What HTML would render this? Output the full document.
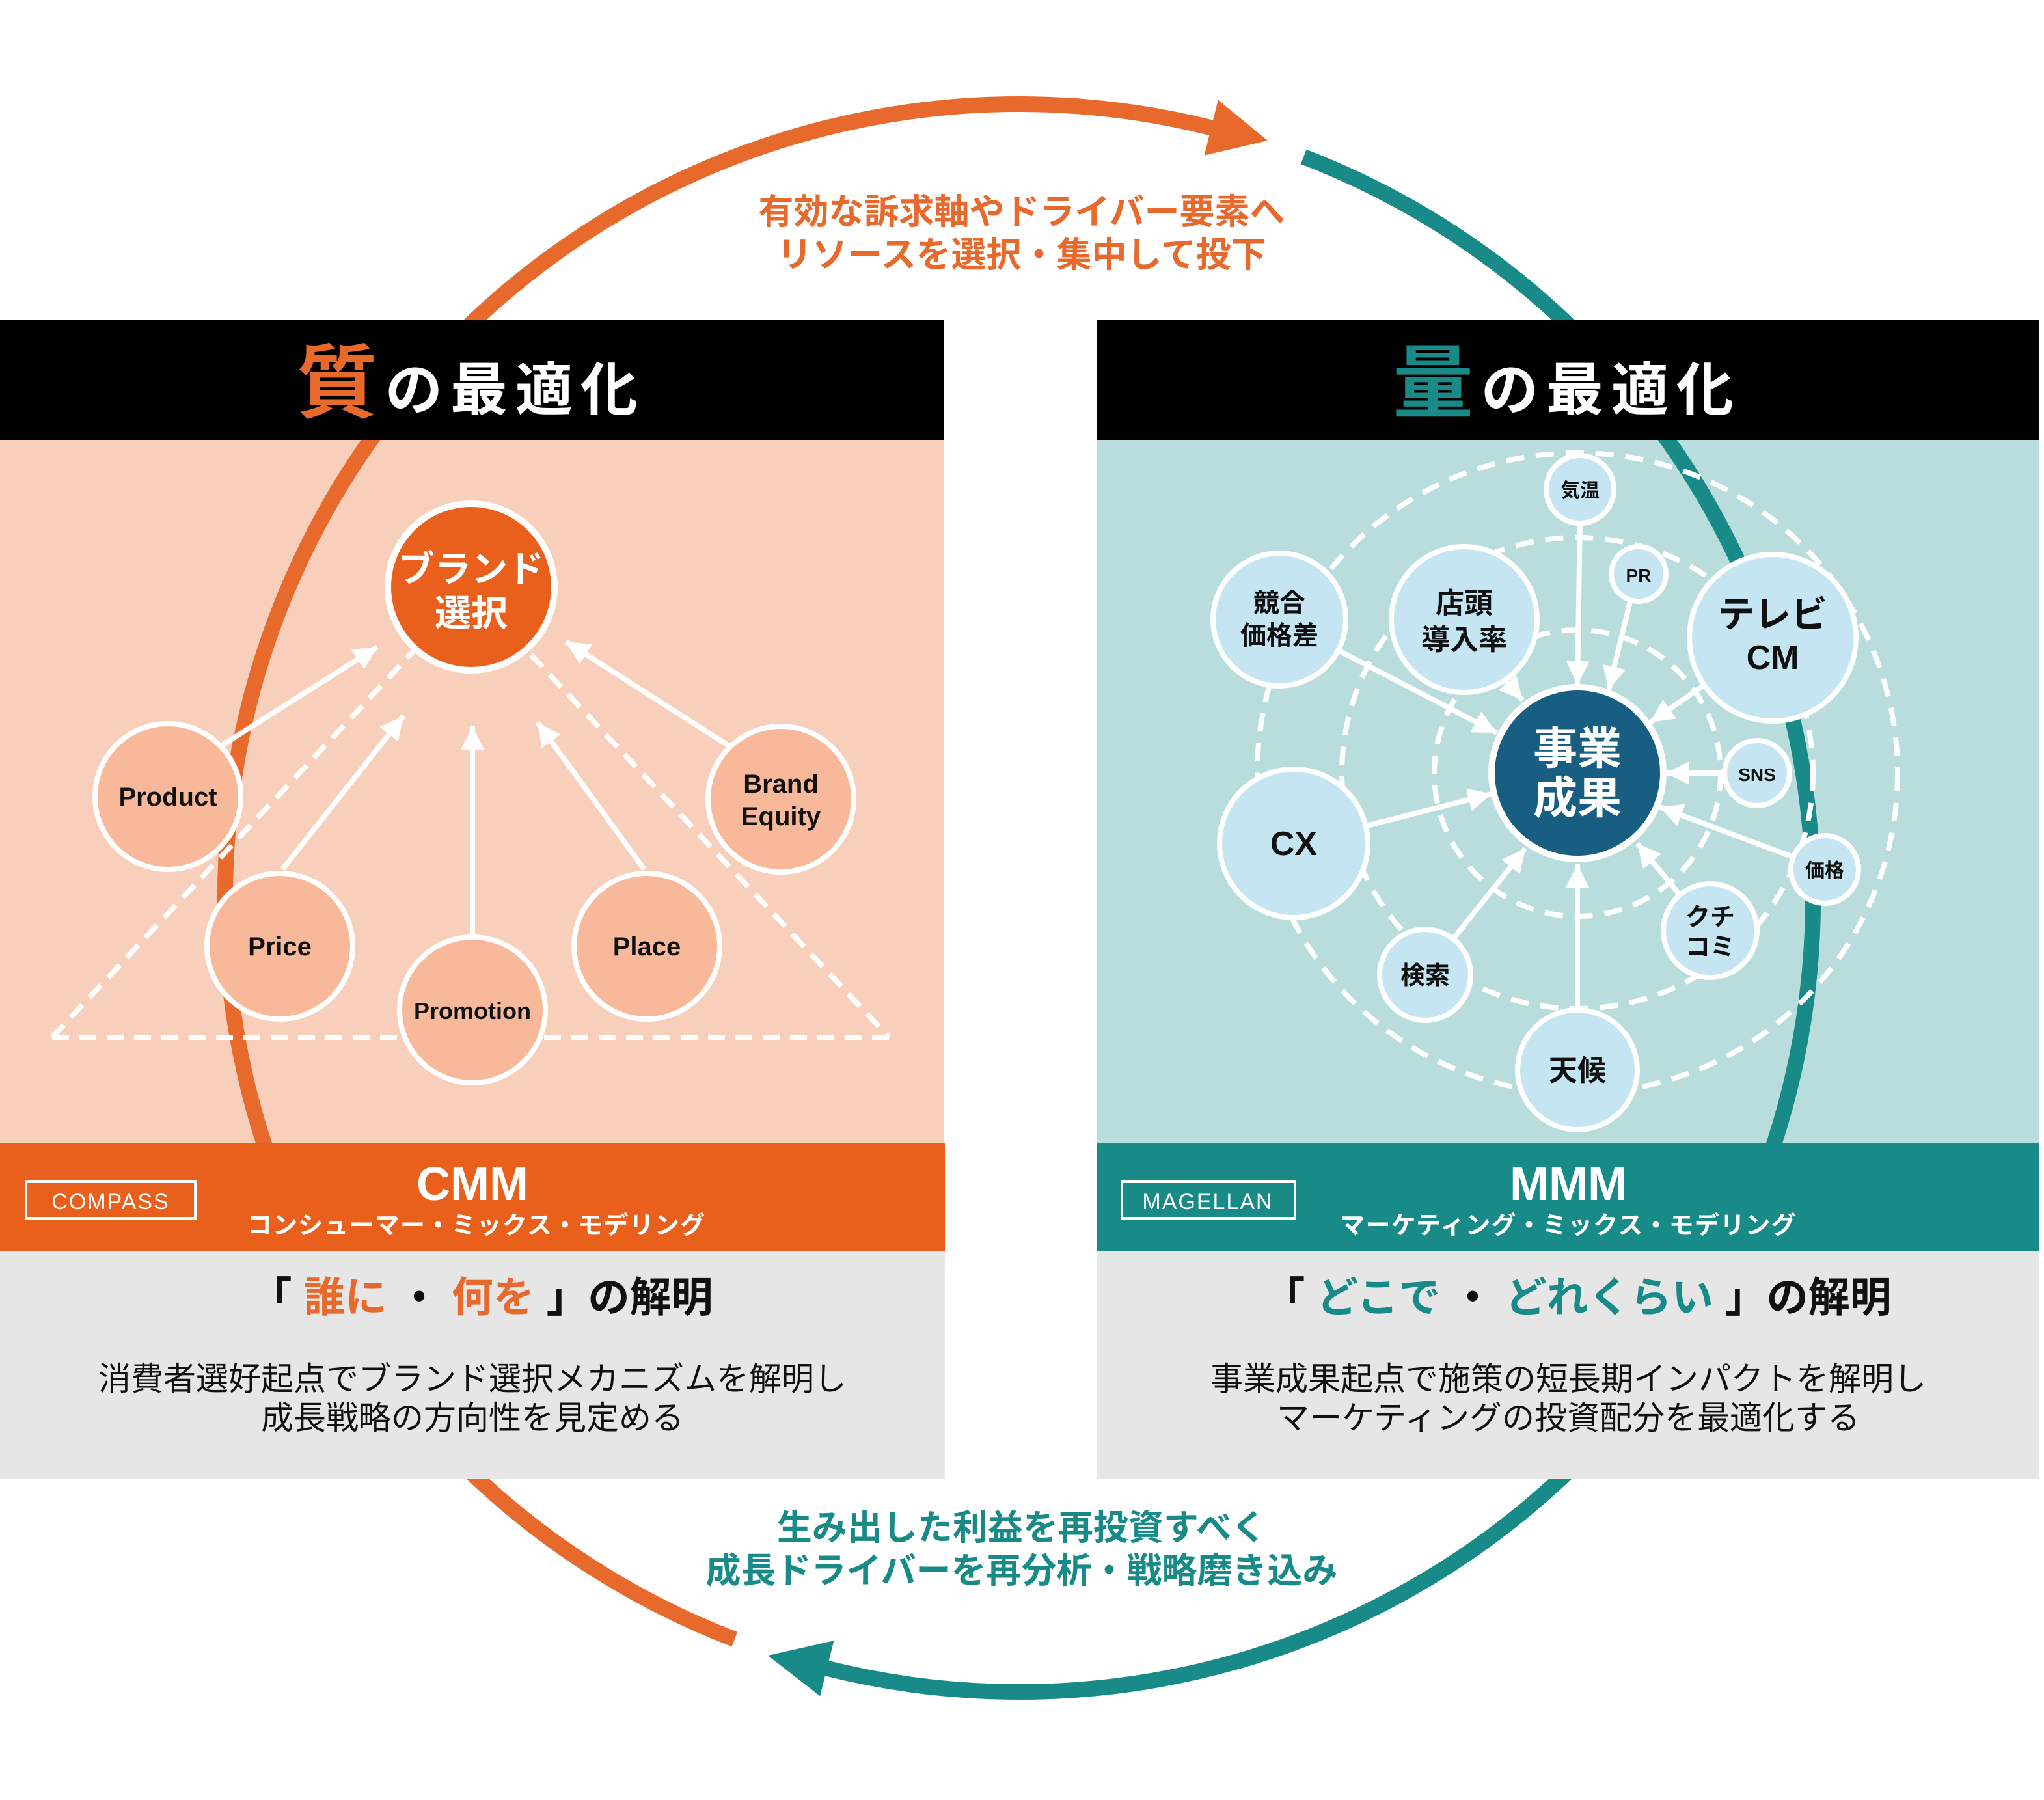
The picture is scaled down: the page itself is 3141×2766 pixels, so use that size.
<!DOCTYPE html>
<html><head><meta charset="utf-8"><style>
html,body{margin:0;padding:0;background:#fff;}
svg{display:block;}
text{font-family:"Liberation Sans","Noto Sans CJK JP",sans-serif;font-weight:bold;}
</style></head><body>
<svg width="3141" height="2766" viewBox="0 0 1570.5 1383" xmlns="http://www.w3.org/2000/svg">
<defs>
<marker id="ah" markerUnits="userSpaceOnUse" markerWidth="22" markerHeight="22" refX="18" refY="9" orient="auto"><path d="M0,0 L18,9 L0,18 Z" fill="#fff"/></marker>
</defs>
<rect x="0" y="338" width="725" height="542" fill="#F8CFBA"/>
<rect x="843" y="338" width="724" height="542" fill="#B9DCDD"/>
<path d="M564.4,1259.5 A610,610 0 0 1 940.9,100.8" fill="none" stroke="#E8692C" stroke-width="12"/>
<polygon points="974,108 935.9,76.8 925.3,119.4" fill="#E8692C"/>
<path d="M1001.6,120.5 A610,610 0 0 1 625.1,1279.2" fill="none" stroke="#188B89" stroke-width="12"/>
<polygon points="590,1272 630.1,1303.2 640.7,1260.6" fill="#188B89"/>
<text x="785" y="172" font-size="27" fill="#E8692C" text-anchor="middle">有効な訴求軸やドライバー要素へ</text>
<text x="785" y="205" font-size="27" fill="#E8692C" text-anchor="middle">リソースを選択・集中して投下</text>
<text x="785" y="1183" font-size="27" fill="#188B89" text-anchor="middle">生み出した利益を再投資すべく</text>
<text x="785" y="1216" font-size="27" fill="#188B89" text-anchor="middle">成長ドライバーを再分析・戦略磨き込み</text>

<g stroke="#fff" stroke-width="4" fill="none" stroke-dasharray="13,8">
<line x1="40" y1="797" x2="318" y2="500"/>
<line x1="408" y1="503" x2="683" y2="797"/>
<line x1="40" y1="797" x2="683" y2="797"/>
</g>
<g stroke="#fff" stroke-width="4" marker-end="url(#ah)">
<line x1="170" y1="573" x2="290" y2="497"/>
<line x1="217" y1="668" x2="310" y2="550"/>
<line x1="363" y1="718" x2="363" y2="558"/>
<line x1="495" y1="668" x2="413" y2="555"/>
<line x1="560" y1="573" x2="435" y2="493"/>
</g>
<g fill="#F7B99A" stroke="#fff" stroke-width="4">
<circle cx="129" cy="612" r="56"/>
<circle cx="215" cy="727" r="56"/>
<circle cx="363" cy="776" r="56"/>
<circle cx="497" cy="727" r="56"/>
<circle cx="600" cy="614" r="56"/>
</g>
<circle cx="362" cy="451" r="64" fill="#E8601C" stroke="#fff" stroke-width="5"/>
<g font-size="20" fill="#111" text-anchor="middle">
<text x="129" y="619">Product</text>
<text x="215" y="734">Price</text>
<text x="363" y="783" font-size="18">Promotion</text>
<text x="497" y="734">Place</text>
<text x="600" y="609">Brand</text>
<text x="600" y="634">Equity</text>
</g>
<text x="362" y="447" font-size="28" fill="#fff" text-anchor="middle">ブランド</text>
<text x="362" y="481" font-size="28" fill="#fff" text-anchor="middle">選択</text>

<g stroke="#fff" stroke-width="4" fill="none" stroke-dasharray="14,9">
<circle cx="1212" cy="594" r="110"/>
<circle cx="1212" cy="594" r="181"/>
<circle cx="1212" cy="594" r="246"/>
</g>
<g stroke="#fff" stroke-width="4" marker-end="url(#ah)">
<line x1="1214" y1="401" x2="1212" y2="526"/>
<line x1="1253" y1="460" x2="1236" y2="530"/>
<line x1="1027" y1="499" x2="1150" y2="563"/>
<line x1="1150" y1="515" x2="1170" y2="538"/>
<line x1="1310" y1="526" x2="1268" y2="555"/>
<line x1="1326" y1="594" x2="1280" y2="594"/>
<line x1="1048" y1="635" x2="1146" y2="610"/>
<line x1="1379" y1="659" x2="1275" y2="620"/>
<line x1="1291" y1="688" x2="1258" y2="648"/>
<line x1="1116" y1="722" x2="1172" y2="652"/>
<line x1="1212" y1="777" x2="1212" y2="664"/>
</g>
<g fill="#C5E5F3" stroke="#fff" stroke-width="4">
<circle cx="1214" cy="376" r="26"/>
<circle cx="1259" cy="441" r="21"/>
<circle cx="983" cy="476" r="51"/>
<circle cx="1125" cy="476" r="56"/>
<circle cx="1362" cy="490" r="64"/>
<circle cx="1350" cy="594" r="25"/>
<circle cx="994" cy="648" r="57"/>
<circle cx="1402" cy="668" r="26"/>
<circle cx="1314" cy="715" r="36"/>
<circle cx="1095" cy="749" r="35"/>
<circle cx="1212" cy="822" r="46"/>
</g>
<circle cx="1212" cy="594" r="66" fill="#175E82" stroke="#fff" stroke-width="5"/>
<g fill="#111" text-anchor="middle">
<text x="1214" y="382" font-size="15">気温</text>
<text x="1259" y="447" font-size="14">PR</text>
<text x="983" y="470" font-size="20">競合</text>
<text x="983" y="495" font-size="20">価格差</text>
<text x="1125" y="471" font-size="22">店頭</text>
<text x="1125" y="499" font-size="22">導入率</text>
<text x="1362" y="482" font-size="28">テレビ</text>
<text x="1362" y="514" font-size="26">CM</text>
<text x="1350" y="600" font-size="14">SNS</text>
<text x="994" y="657" font-size="26">CX</text>
<text x="1402" y="674" font-size="15">価格</text>
<text x="1314" y="711" font-size="19">クチ</text>
<text x="1314" y="734" font-size="19">コミ</text>
<text x="1095" y="756" font-size="19">検索</text>
<text x="1212" y="830" font-size="22">天候</text>
</g>
<text x="1212" y="587" font-size="34" fill="#fff" text-anchor="middle">事業</text>
<text x="1212" y="625" font-size="34" fill="#fff" text-anchor="middle">成果</text>

<rect x="0" y="246" width="725" height="92" fill="#000"/>
<rect x="843" y="246" width="724" height="92" fill="#000"/>
<text x="228" y="316" font-size="62" fill="#E8692C">質</text>
<text x="296" y="315" font-size="44" fill="#fff" letter-spacing="6">の最適化</text>
<text x="1070" y="316" font-size="62" fill="#188B89">量</text>
<text x="1138" y="315" font-size="44" fill="#fff" letter-spacing="6">の最適化</text>

<rect x="0" y="878" width="726" height="83" fill="#E8601C"/>
<rect x="843" y="878" width="724" height="83" fill="#188B89"/>
<rect x="20" y="908" width="130" height="28" fill="none" stroke="#fff" stroke-width="2"/>
<text x="85" y="929" font-size="17" fill="#fff" text-anchor="middle" style="font-weight:normal" letter-spacing="1">COMPASS</text>
<rect x="862" y="908" width="133" height="28" fill="none" stroke="#fff" stroke-width="2"/>
<text x="928" y="929" font-size="17" fill="#fff" text-anchor="middle" style="font-weight:normal" letter-spacing="1">MAGELLAN</text>
<text x="363" y="922" font-size="36" fill="#fff" text-anchor="middle">CMM</text>
<text x="366" y="948" font-size="19" fill="#fff" text-anchor="middle" letter-spacing="0.6">コンシューマー・ミックス・モデリング</text>
<text x="1205" y="922" font-size="36" fill="#fff" text-anchor="middle">MMM</text>
<text x="1205" y="948" font-size="19" fill="#fff" text-anchor="middle" letter-spacing="0.6">マーケティング・ミックス・モデリング</text>

<rect x="0" y="961" width="726" height="175" fill="#E6E6E6"/>
<rect x="843" y="961" width="724" height="175" fill="#E6E6E6"/>
<text x="370" y="1008" font-size="32" fill="#111" text-anchor="middle" xml:space="preserve">「 <tspan fill="#E8692C">誰に</tspan> ・ <tspan fill="#E8692C">何を</tspan> 」の解明</text>
<text x="1212" y="1008" font-size="32" fill="#111" text-anchor="middle" xml:space="preserve">「 <tspan fill="#188B89">どこで</tspan> ・ <tspan fill="#188B89">どれくらい</tspan> 」の解明</text>
<g font-size="25" fill="#111" text-anchor="middle">
<text x="363" y="1068" style="font-weight:normal">消費者選好起点でブランド選択メカニズムを解明し</text>
<text x="363" y="1098" style="font-weight:normal">成長戦略の方向性を見定める</text>
<text x="1205" y="1068" style="font-weight:normal">事業成果起点で施策の短長期インパクトを解明し</text>
<text x="1205" y="1098" style="font-weight:normal">マーケティングの投資配分を最適化する</text>
</g>
</svg>
</body></html>
